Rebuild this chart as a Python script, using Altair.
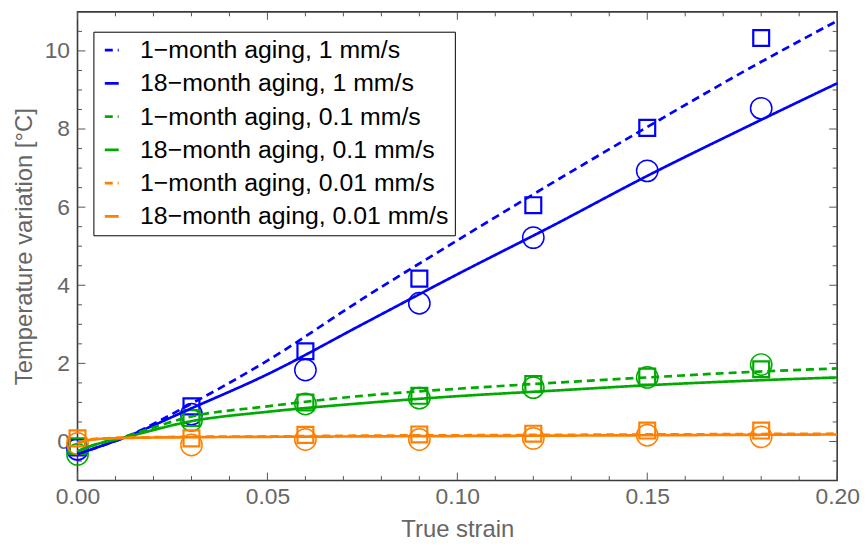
import altair as alt
import pandas as pd

SERIES = [
    "1−month aging, 1 mm/s",
    "18−month aging, 1 mm/s",
    "1−month aging, 0.1 mm/s",
    "18−month aging, 0.1 mm/s",
    "1−month aging, 0.01 mm/s",
    "18−month aging, 0.01 mm/s",
]
COLORS = ["#0000ff", "#0000ff", "#00aa00", "#00aa00", "#ff8000", "#ff8000"]
DASHES = [[8, 5], [1, 0], [8, 5], [1, 0], [8, 5], [1, 0]]

# measured points
STRAIN = [0.0, 0.03, 0.06, 0.09, 0.12, 0.15, 0.18]
SQ_1MM = [-0.15, 0.9, 2.31, 4.17, 6.05, 8.03, 10.33]
CI_1MM = [-0.2, 0.7, 1.83, 3.54, 5.22, 6.93, 8.53]
SQ_01MM = [-0.12, 0.6, 1.0, 1.17, 1.47, 1.66, 1.85]
CI_01MM = [-0.33, 0.54, 0.96, 1.11, 1.38, 1.64, 1.97]
SQ_001MM = [0.08, 0.08, 0.17, 0.18, 0.2, 0.28, 0.28]
CI_001MM = [-0.05, -0.09, 0.05, 0.05, 0.08, 0.16, 0.12]

# fitted curves
FIT_X = [0.0, 0.004, 0.0123, 0.03, 0.05, 0.075, 0.1, 0.125, 0.15, 0.175, 0.2]
FIT_1M_1MM = [-0.32, -0.19, 0.1, 0.97, 2.07, 3.65, 5.15, 6.62, 8.05, 9.45, 10.77]
FIT_18M_1MM = [-0.32, -0.19, 0.1, 0.85, 1.72, 3.0, 4.28, 5.52, 6.8, 8.0, 9.17]
FIT_1M_01MM = [-0.25, -0.1, 0.12, 0.64, 0.9, 1.17, 1.35, 1.5, 1.64, 1.77, 1.87]
FIT_18M_01MM = [-0.25, -0.1, 0.1, 0.52, 0.76, 0.98, 1.16, 1.3, 1.44, 1.55, 1.64]
FIT_1M_001MM = [-0.04, 0.06, 0.1, 0.12, 0.13, 0.15, 0.16, 0.17, 0.18, 0.19, 0.2]
FIT_18M_001MM = [-0.05, 0.05, 0.09, 0.11, 0.12, 0.13, 0.14, 0.15, 0.16, 0.17, 0.18]

X_MAJOR = [0.0, 0.05, 0.1, 0.15, 0.2]
X_MINOR = [0.01, 0.02, 0.03, 0.04, 0.06, 0.07, 0.08, 0.09, 0.11, 0.12, 0.13,
           0.14, 0.16, 0.17, 0.18, 0.19]
Y_MAJOR = [0, 2, 4, 6, 8, 10]
Y_MINOR = [-0.5, 0.5, 1, 1.5, 2.5, 3, 3.5, 4.5, 5, 5.5, 6.5, 7, 7.5, 8.5, 9,
           9.5, 10.5]

W, H = 765, 472
FONT = "Liberation Sans"
GRAY = "#666666"

fits = [FIT_1M_1MM, FIT_18M_1MM, FIT_1M_01MM, FIT_18M_01MM, FIT_1M_001MM, FIT_18M_001MM]
line_rows = []
for name, ys in zip(SERIES, fits):
    for i, (xv, yv) in enumerate(zip(FIT_X, ys)):
        line_rows.append({"series": name, "x": xv, "y": yv, "i": i})
lines_df = pd.DataFrame(line_rows)

xscale = alt.Scale(domain=[0, 0.2], nice=False, zero=False)
yscale = alt.Scale(domain=[-1, 11], nice=False, zero=False)
cscale = alt.Scale(domain=SERIES, range=COLORS)
dscale = alt.Scale(domain=SERIES, range=DASHES)


def point_layer(ys, color, shape, size, sw):
    df = pd.DataFrame({"x": STRAIN, "y": ys})
    return alt.Chart(df).mark_point(shape=shape, filled=False, size=size, strokeWidth=sw,
                                    opacity=1, color=color).encode(
        x=alt.X("x:Q", scale=xscale),
        y=alt.Y("y:Q", scale=yscale),
    )


point_layers = [
    point_layer(SQ_1MM, COLORS[0], "square", 256, 2.2),
    point_layer(CI_1MM, COLORS[1], "circle", 462, 1.5),
    point_layer(SQ_01MM, COLORS[2], "square", 256, 2.2),
    point_layer(CI_01MM, COLORS[3], "circle", 462, 1.5),
    point_layer(SQ_001MM, COLORS[4], "square", 256, 2.2),
    point_layer(CI_001MM, COLORS[5], "circle", 462, 1.5),
]

lines = alt.Chart(lines_df).mark_line(interpolate="monotone", strokeWidth=2.7).encode(
    x=alt.X("x:Q", scale=xscale, title="True strain",
            axis=alt.Axis(values=X_MAJOR, format=".2f", ticks=False, domain=False, grid=False,
                          labelFlush=False, labelPadding=5, titlePadding=9)),
    y=alt.Y("y:Q", scale=yscale, title="Temperature variation [°C]",
            axis=alt.Axis(values=Y_MAJOR, format="d", ticks=False, domain=False, grid=False,
                          labelFlush=False, labelPadding=8, titlePadding=8)),
    color=alt.Color("series:N", scale=cscale, title=None),
    strokeDash=alt.StrokeDash("series:N", scale=dscale, title=None),
    order="i:Q",
)


def xticks(vals, length):
    df = pd.DataFrame({"x": vals})
    base = alt.Chart(df).mark_rule(color="#555555", strokeWidth=1)
    bottom = base.encode(x=alt.X("x:Q", scale=xscale), y=alt.value(H), y2=alt.value(H - length))
    top = base.encode(x=alt.X("x:Q", scale=xscale), y=alt.value(0), y2=alt.value(length))
    return [bottom, top]


def yticks(vals, length):
    df = pd.DataFrame({"y": vals})
    base = alt.Chart(df).mark_rule(color="#555555", strokeWidth=1)
    left = base.encode(y=alt.Y("y:Q", scale=yscale), x=alt.value(0), x2=alt.value(length))
    right = base.encode(y=alt.Y("y:Q", scale=yscale), x=alt.value(W), x2=alt.value(W - length))
    return [left, right]


tick_layers = xticks(X_MAJOR, 8) + xticks(X_MINOR, 4.5) + yticks(Y_MAJOR, 8) + yticks(Y_MINOR, 4.5)

chart = alt.layer(*tick_layers, *point_layers, lines).properties(
    width=W, height=H,
    autosize=alt.AutoSizeParams(type="none"),
    padding={"left": 70, "top": 2, "right": 23, "bottom": 60},
).configure_view(
    stroke="#3a3a3a", strokeWidth=1.6
).configure_axis(
    grid=False, ticks=False, domain=False,
    labelFont=FONT, labelFontSize=23, labelColor=GRAY,
    titleFont=FONT, titleFontSize=24, titleColor=GRAY, titleFontWeight="normal",
).configure_legend(
    orient="none", legendX=16, legendY=20,
    strokeColor="#000000", fillColor="#ffffff", padding=6,
    labelFont=FONT, labelFontSize=25, labelColor="#000000",
    symbolType="stroke", symbolSize=196, symbolStrokeWidth=2.7,
    rowPadding=7.5, labelOffset=16, labelLimit=500,
)

chart.save("out.html", embed_options={"renderer": "svg", "actions": False})
